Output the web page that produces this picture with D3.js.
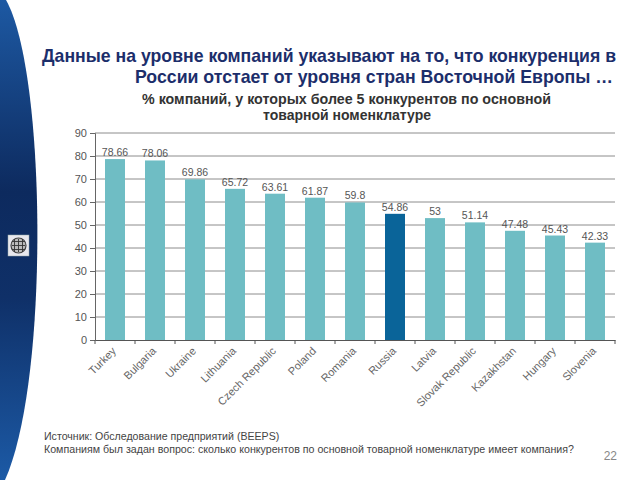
<!DOCTYPE html>
<html><head><meta charset="utf-8">
<script src="https://cdn.jsdelivr.net/npm/d3@7"></script>
<style>body{margin:0;background:#fff}svg{display:block}</style>
</head><body>
<script>
const categories = ["Turkey","Bulgaria","Ukraine","Lithuania","Czech Republic","Poland","Romania","Russia","Latvia","Slovak Republic","Kazakhstan","Hungary","Slovenia"];
const values = [78.66,78.06,69.86,65.72,63.61,61.87,59.8,54.86,53,51.14,47.48,45.43,42.33];
const valueLabels = ["78.66","78.06","69.86","65.72","63.61","61.87","59.8","54.86","53","51.14","47.48","45.43","42.33"];
const yTicks = [0,10,20,30,40,50,60,70,80,90];
const highlight = "Russia";
const titleLines = ["Данные на уровне компаний указывают на то, что конкуренция в","России отстает от уровня стран Восточной Европы  …"];
const subtitleLines = ["% компаний, у которых более 5 конкурентов по основной","товарной номенклатуре"];
const noteLines = ["Источник: Обследование предприятий (BEEPS)","Компаниям был задан вопрос: сколько конкурентов по основной товарной номенклатуре имеет компания?"];
const pageNumber = "22";

const W=640,H=480;
const svg=d3.select("body").append("svg").attr("width",W).attr("height",H);
const defs=svg.append("defs");
const g1=defs.append("linearGradient").attr("id","band").attr("x1",0).attr("y1",0).attr("x2",0).attr("y2",1);
g1.append("stop").attr("offset","0%").attr("stop-color","#1d59a3");
g1.append("stop").attr("offset","40%").attr("stop-color","#0d2a5e");
g1.append("stop").attr("offset","62%").attr("stop-color","#0f3068");
g1.append("stop").attr("offset","100%").attr("stop-color","#1c5aa6");
svg.append("path").attr("d","M0,0 L6,0 C46,70 50,380 5,480 L0,480 Z").attr("fill","url(#band)");

// logo
const lg=svg.append("g").attr("transform","translate(8,235)");
lg.append("rect").attr("width",21).attr("height",21).attr("fill","#e8e8ee").attr("stroke","#9aa").attr("stroke-width",0.5);
lg.append("circle").attr("cx",10.5).attr("cy",10.5).attr("r",7.5).attr("fill","#bbb").attr("stroke","#444").attr("stroke-width",1.2);
[-4,0,4].forEach(d=>{
  lg.append("line").attr("x1",10.5+d).attr("x2",10.5+d).attr("y1",4).attr("y2",17).attr("stroke","#333").attr("stroke-width",0.9);
  lg.append("line").attr("y1",10.5+d).attr("y2",10.5+d).attr("x1",4).attr("x2",17).attr("stroke","#333").attr("stroke-width",0.9);
});

// title
const tf="'Liberation Sans',Arial,sans-serif";
function txt(s,x0,yb,anchor,size,weight,fill,len){
  const t=svg.append("text").attr("x",x0).attr("y",yb).attr("text-anchor",anchor).attr("font-family",tf)
    .attr("font-weight",weight).attr("font-size",size).attr("fill",fill).text(s);
  if(len) t.attr("textLength",len).attr("lengthAdjust","spacingAndGlyphs");
  return t;
}
txt(titleLines[0],42,62,"start",17.8,"bold","#1c2e6b",574);
txt(titleLines[1],135,83,"start",17.8,"bold","#1c2e6b",478);
txt(subtitleLines[0],142,104,"start",14,"bold","#333",409);
txt(subtitleLines[1],347,120,"middle",14,"bold","#333",168);

// chart
const x=d3.scaleBand().domain(categories).range([95,615]).paddingInner(0.5).paddingOuter(0.25);
const y=d3.scaleLinear().domain([0,90]).range([340,133]);
const af="'Liberation Sans',Arial,sans-serif";

svg.append("g").selectAll("line").data(yTicks.slice(1)).join("line")
  .attr("x1",95).attr("x2",615).attr("y1",d=>y(d)).attr("y2",d=>y(d)).attr("stroke","#8c8c8c").attr("stroke-width",1);

svg.append("g").selectAll("rect").data(values).join("rect")
  .attr("x",(d,i)=>x(categories[i])).attr("width",x.bandwidth())
  .attr("y",d=>y(d)).attr("height",d=>340-y(d))
  .attr("fill",(d,i)=>categories[i]===highlight?"#0a6499":"#6fbdc4");

const ya=svg.append("g").attr("transform","translate(95,0)").call(d3.axisLeft(y).tickValues(yTicks).tickSize(5).tickPadding(3));
ya.select(".domain").attr("stroke","#666");
ya.selectAll(".tick line").attr("stroke","#666");
ya.selectAll("text").attr("font-family",af).attr("font-size",11).attr("fill","#555");

const xa=svg.append("g").attr("transform","translate(0,340)").call(d3.axisBottom(x).tickSize(0).tickPadding(0));
xa.select(".domain").attr("stroke","#555").attr("stroke-width",1.2);
xa.selectAll("text").attr("font-family",af).attr("font-size",11).attr("fill","#666")
  .attr("text-anchor","end").attr("transform","translate(-1,9) rotate(-45)").attr("dy","0.35em").attr("dx",0).attr("y",0);
const bounds=categories.map(c=>x(c)-x.step()*x.paddingInner()/2).concat([615]);
svg.append("g").selectAll("line").data(bounds).join("line")
  .attr("x1",d=>d).attr("x2",d=>d).attr("y1",340).attr("y2",344).attr("stroke","#555");

svg.append("g").selectAll("text").data(values).join("text")
  .attr("x",(d,i)=>x(categories[i])+x.bandwidth()/2).attr("y",d=>y(d)-3)
  .attr("text-anchor","middle").attr("font-family",af).attr("font-size",10.5).attr("fill","#555")
  .text((d,i)=>valueLabels[i]);

// notes
svg.append("text").attr("x",44).attr("y",440).attr("font-family",af).attr("font-size",10.6).attr("fill","#444").text(noteLines[0]);
svg.append("text").attr("x",44).attr("y",453).attr("font-family",af).attr("font-size",10.4).attr("fill","#444").attr("textLength",530).attr("lengthAdjust","spacingAndGlyphs").text(noteLines[1]);
svg.append("text").attr("x",617).attr("y",460).attr("text-anchor","end").attr("font-family",af).attr("font-size",12).attr("fill","#888").text(pageNumber);
</script>
</body></html>
